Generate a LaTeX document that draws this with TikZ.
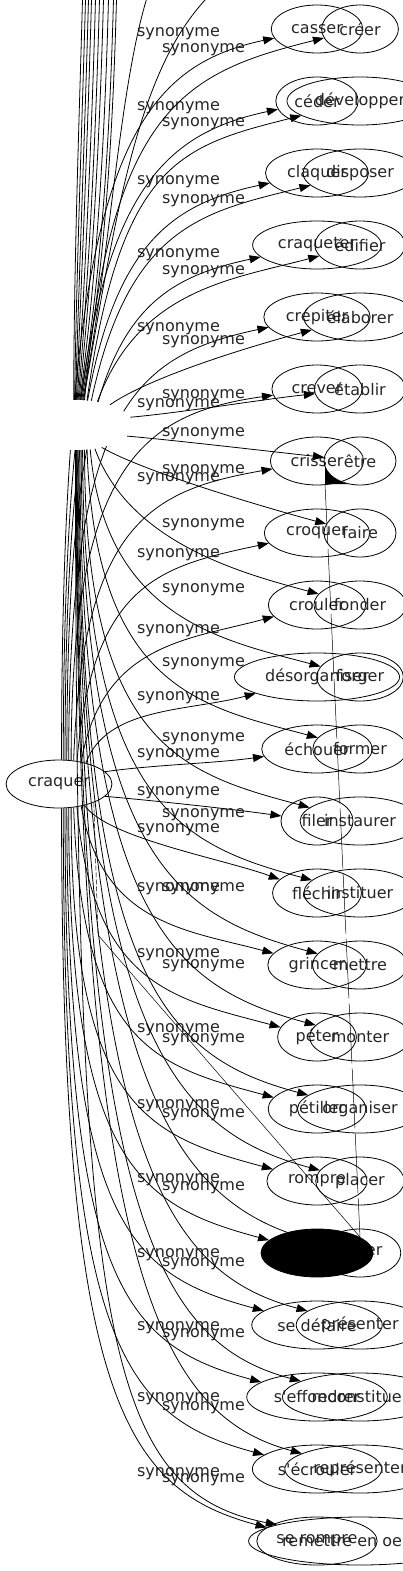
\documentclass[tikz,border=0pt]{standalone}
\usepackage{fontspec}
\newfontfamily\gv{DejaVu Sans}
\usetikzlibrary{arrows.meta,calc,shapes.geometric}
\pgfdeclarelayer{top}
\pgfsetlayers{main,top}
\begin{document}
\begin{tikzpicture}[x=1pt,y=1pt,
  nd/.style={ellipse, draw, line width=0.8pt, inner xsep=6.5pt, inner ysep=3pt,
     minimum height=48pt, minimum width=72pt, text=black!85, font=\gv\fontsize{16}{19}\selectfont},
  lab/.style={font=\gv\fontsize{16}{19}\selectfont, text=black!85, inner sep=0pt, anchor=base},
  e/.style={line width=0.8pt, -{Triangle[length=11pt,width=8pt]}},
  ln/.style={line width=0.8pt},
  thinl/.style={line width=0.5pt}]
\useasboundingbox (0,0) rectangle (403,-1571);
\clip (0,0) rectangle (403,-1571);
% ---------- graph 1 ----------
\node[nd] (craq) at (59,-784) {craquer};
\node[nd] (n1a) at (317,-29) {casser};
\node[nd] (n1b) at (317,-101) {céder};
\node[nd] (n1c) at (317,-173) {claquer};
\node[nd] (n1d) at (317,-245) {craqueter};
\node[nd] (n1e) at (317,-317) {crépiter};
\node[nd] (n1f) at (317,-389) {crever};
\node[nd] (n1g) at (317,-461) {crisser};
\node[nd] (n1h) at (317,-533) {croquer};
\node[nd] (n1i) at (317,-605) {crouler};
\node[nd] (n1j) at (317,-677) {désorganiser};
\node[nd] (n1k) at (317,-749) {échouer};
\node[nd] (n1l) at (317,-821) {filer};
\node[nd] (n1m) at (317,-893) {fléchir};
\node[nd] (n1n) at (317,-965) {grincer};
\node[nd] (n1o) at (317,-1037) {péter};
\node[nd] (n1p) at (317,-1109) {pétiller};
\node[nd] (n1q) at (317,-1181) {rompre};
\begin{pgfonlayer}{top}
\node[nd, fill=black, minimum width=112pt] (blk) at (317,-1253) {};
\end{pgfonlayer}
\node[nd] (n1s) at (317,-1325) {se défaire};
\node[nd] (n1t) at (317,-1397) {s'effondrer};
\node[nd] (n1u) at (317,-1469) {s'écrouler};
\node[nd, inner xsep=2pt] (n1v) at (317,-1541) {se rompre};
\foreach \y [count=\i] in {36.4,110.4,184.4,257.4,331.4,407.4,481.4,557.4,633.4,700.4,757.4,795.4,832.4,891.4,957.4,1032.4,1108.4,1182.4,1257.4,1330.4,1401.4,1476.4}
  \node[lab] (la\i) at (178.5,-\y) {synonyme};
% upper edges
\draw[e] (craq.84) to[out=90,in=-168,out distance=585pt,in distance=150pt] (n1a);
\draw[e] (craq.80) to[out=90,in=-168,out distance=527pt,in distance=150pt] (n1b);
\draw[e] (craq.76) to[out=90,in=-168,out distance=470pt,in distance=145pt] (n1c);
\draw[e] (craq.72) to[out=90,in=-168,out distance=412pt,in distance=140pt] (n1d);
\draw[e] (craq.68) to[out=90,in=-168,out distance=354pt,in distance=135pt] (n1e);
\draw[e] (craq.63) to[out=90,in=-172,out distance=297pt,in distance=130pt] (n1f);
\draw[e] (craq.58) to[out=88,in=-170,out distance=240pt,in distance=120pt] (n1g);
\draw[e] (craq.52) to[out=85,in=-168,out distance=180pt,in distance=110pt] (n1h);
\draw[e] (craq.45) to[out=80,in=-165,out distance=120pt,in distance=90pt] (n1i);
\draw[e] (craq.38) to[out=70,in=-165,out distance=60pt,in distance=70pt] (n1j);
\draw[e] (craq.15) to[out=8,in=-172,out distance=50pt,in distance=50pt] (n1k);
\draw[e] (craq.-15) to[out=-5,in=172,out distance=50pt,in distance=50pt] (n1l);
% lower edges
\draw[e] (craq.-40) to[out=-55,in=160,out distance=40pt,in distance=60pt] (n1m);
\draw[e] (craq.-45) to[out=-80,in=165,out distance=120pt,in distance=90pt] (n1n);
\draw[e] (craq.-52) to[out=-85,in=165,out distance=180pt,in distance=110pt] (n1o);
\draw[e] (craq.-58) to[out=-88,in=165,out distance=240pt,in distance=120pt] (n1p);
\draw[e] (craq.-63) to[out=-90,in=165,out distance=300pt,in distance=130pt] (n1q);
\draw[e] (craq.-68) to[out=-90,in=165,out distance=355pt,in distance=135pt] (blk);
\draw[e] (craq.-72) to[out=-90,in=165,out distance=415pt,in distance=140pt] (n1s);
\draw[e] (craq.-76) to[out=-90,in=165,out distance=470pt,in distance=145pt] (n1t);
\draw[e] (craq.-80) to[out=-90,in=165,out distance=530pt,in distance=150pt] (n1u);
\draw[e] (craq.-84) to[out=-90,in=165,out distance=585pt,in distance=150pt] (n1v);
% ---------- graph 2 ----------
\node[ellipse, fill=white, inner sep=0pt, minimum width=116pt, minimum height=50pt] (hub) at (75,-425) {};
\node[nd] (n2a) at (360,-29) {créer};
\node[nd] (n2b) at (360,-101) {développer};
\node[nd] (n2c) at (360,-173) {disposer};
\node[nd] (n2d) at (360,-245) {édifier};
\node[nd] (n2e) at (360,-317) {élaborer};
\node[nd] (n2f) at (360,-389) {établir};
\node[nd] (n2g) at (360,-461) {être};
\node[nd] (n2h) at (360,-533) {faire};
\node[nd] (n2i) at (360,-605) {fonder};
\node[nd] (n2j) at (360,-677) {forger};
\node[nd] (n2k) at (360,-749) {former};
\node[nd] (n2l) at (360,-821) {instaurer};
\node[nd] (n2m) at (360,-893) {instituer};
\node[nd] (n2n) at (360,-965) {mettre};
\node[nd] (n2o) at (360,-1037) {monter};
\node[nd] (n2p) at (360,-1109) {organiser};
\node[nd] (n2q) at (360,-1181) {placer};
\node[nd] (n2r) at (360,-1253) {poser};
\node[nd] (n2s) at (360,-1325) {présenter};
\node[nd] (n2t) at (360,-1397) {reconstituer};
\node[nd] (n2u) at (360,-1469) {représenter};
\node[nd, inner xsep=1pt] (n2v) at (360,-1541) {remettre en oeuvre};
\foreach \y [count=\i] in {52.4,126.4,203.4,274.4,344.4,398.4,436.4,473.4,527.4,592.4,666.4,741.4,817.4,891.4,968.4,1042.4,1117.4,1190.4,1266.4,1337.4,1410.4,1482.4}
  \node[lab] (lb\i) at (203.5,-\y) {synonyme};
% edges to nodes above the picture (only their lower part is visible)
\foreach \k/\a/\xt in {0/93/82,1/91/85,2/89/88,3/87/91,4/85/95,5/83/99,6/81/103,7/79/108,8/77/113,9/75/116}{
  \coordinate (u\k) at (\xt+1,20);
  \draw[ln] (hub.\a) .. controls (\xt-8,-250) and (\xt-2,-100) .. (u\k);
}
\coordinate (u10) at (155,25);
\coordinate (u11) at (215,10);
\draw[ln] (hub.73) .. controls (112,-250) and (120,-60) .. (u10);
\draw[ln] (hub.71) .. controls (118,-200) and (140,-60) .. (u11);
\draw[e] (hub.69) to[out=85,in=-166,out distance=297pt,in distance=140pt] (n2a);
\draw[e] (hub.64) to[out=82,in=-166,out distance=240pt,in distance=125pt] (n2b);
\draw[e] (hub.56) to[out=78,in=-166,out distance=180pt,in distance=110pt] (n2c);
\draw[e] (hub.46) to[out=70,in=-165,out distance=120pt,in distance=90pt] (n2d);
\draw[e] (hub.30) to[out=35,in=-165,out distance=50pt,in distance=60pt] (n2e);
\draw[e] (hub.8) to[out=5,in=-174,out distance=50pt,in distance=50pt] (n2f);
\draw[e] (hub.-12) to[out=-5,in=174,out distance=50pt,in distance=50pt] (n2g);
\draw[e] (hub.-40) to[out=-30,in=165,out distance=50pt,in distance=60pt] (n2h);
\draw[e] (hub.-50) to[out=-70,in=165,out distance=100pt,in distance=80pt] (n2i);
\draw[e] (hub.-58) to[out=-85,in=165,out distance=170pt,in distance=100pt] (n2j);
\draw[e] (hub.-64) to[out=-88,in=165,out distance=240pt,in distance=120pt] (n2k);
\draw[e] (hub.-69) to[out=-90,in=165,out distance=297pt,in distance=130pt] (n2l);
\draw[e] (hub.-73) to[out=-90,in=165,out distance=354pt,in distance=135pt] (n2m);
\draw[e] (hub.-76) to[out=-90,in=165,out distance=412pt,in distance=140pt] (n2n);
\draw[e] (hub.-79) to[out=-90,in=165,out distance=470pt,in distance=145pt] (n2o);
\draw[e] (hub.-81) to[out=-90,in=165,out distance=527pt,in distance=150pt] (n2p);
\draw[e] (hub.-83) to[out=-90,in=165,out distance=585pt,in distance=150pt] (n2q);
\draw[e] (hub.-85) to[out=-90,in=165,out distance=640pt,in distance=150pt] (n2r);
\draw[e] (hub.-86.5) to[out=-90,in=165,out distance=700pt,in distance=150pt] (n2s);
\draw[e] (hub.-87.5) to[out=-90,in=165,out distance=758pt,in distance=150pt] (n2t);
\draw[e] (hub.-88.5) to[out=-90,in=165,out distance=815pt,in distance=150pt] (n2u);
\draw[e] (hub.-89.5) .. controls (76,-1320) and (100,-1490) .. (n2v);
% ---------- stray marks ----------
\coordinate (bj) at (360,-1237);
\coordinate (ew) at (325,-484);
\coordinate (dk) at (98,-935);
\fill (325,-466) -- (ew) -- (348,-484) .. controls (336,-481) and (328,-475) .. cycle;
\draw[thinl, dash pattern=on 60pt off 5pt] (ew) -- (bj);
\draw[thinl, dash pattern=on 5pt off 2pt] (craq.-28) -- (dk);
\draw[thinl] (dk) -- (bj);
\end{tikzpicture}
\end{document}
